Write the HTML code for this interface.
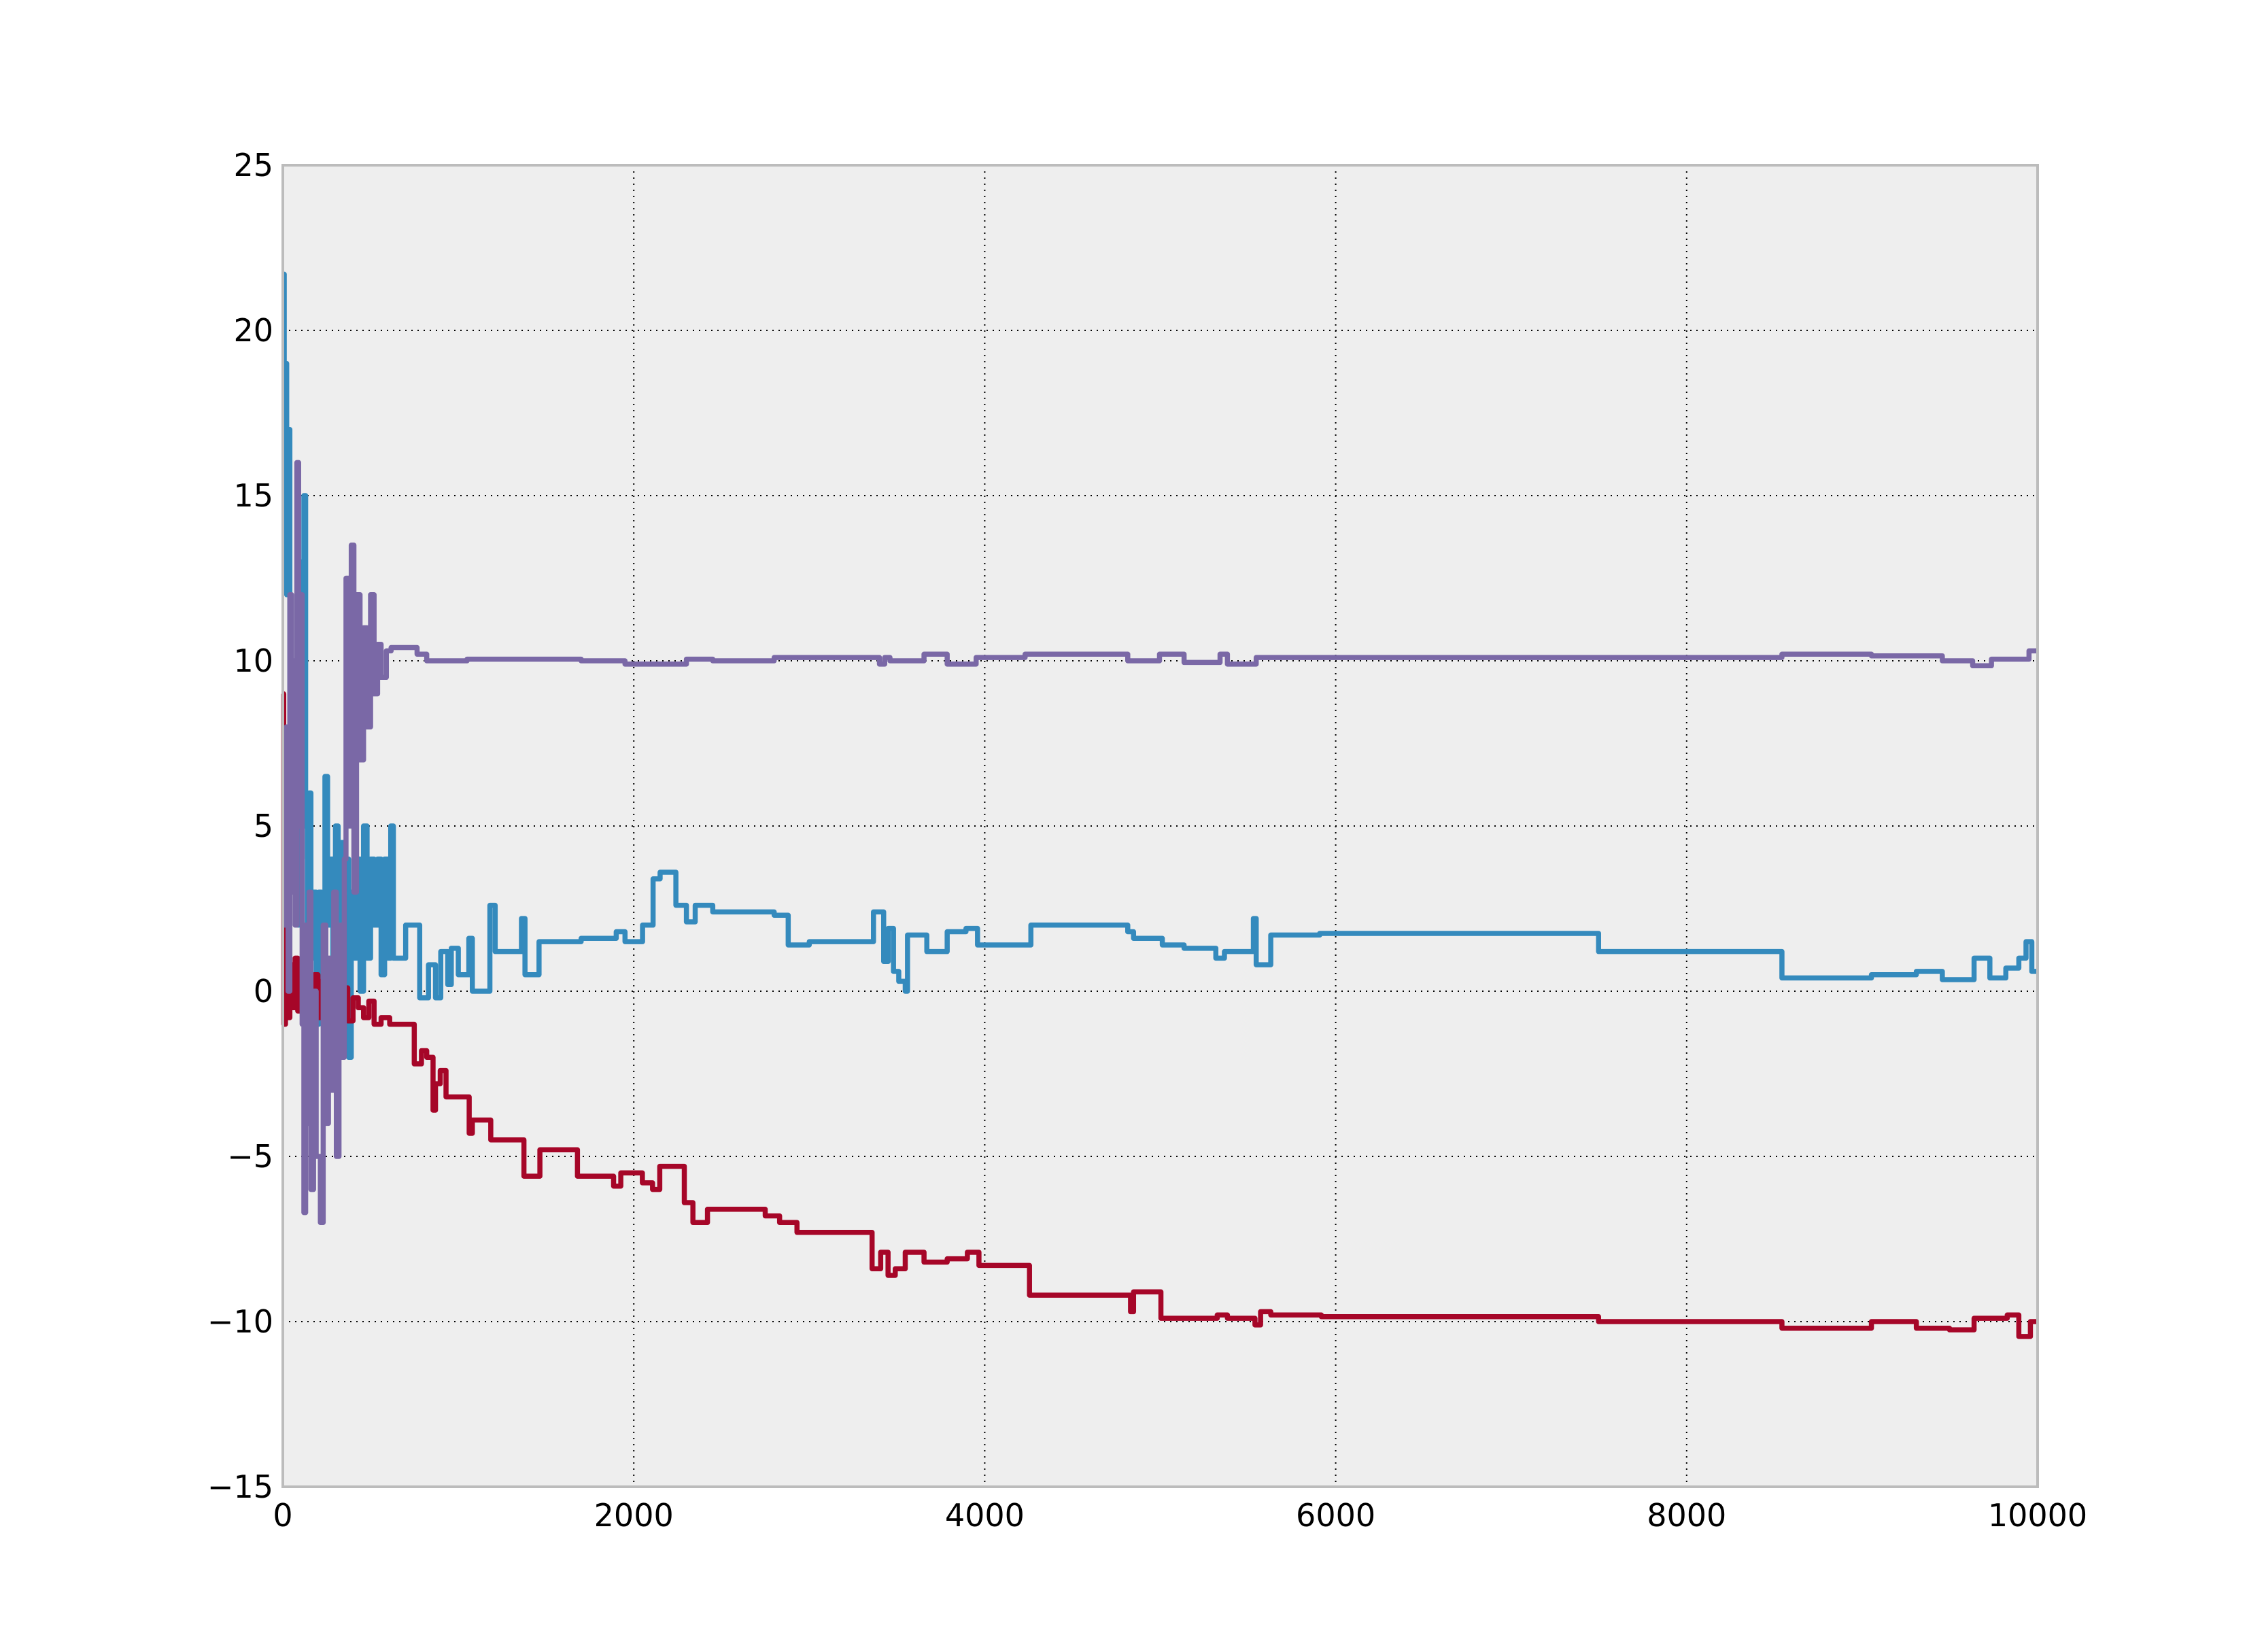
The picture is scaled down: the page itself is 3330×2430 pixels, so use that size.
<!DOCTYPE html>
<html><head><meta charset="utf-8"><style>
html,body{margin:0;padding:0;background:#fff}
svg{display:block;font-family:"DejaVu Sans","Liberation Sans",sans-serif}
</style></head><body>
<svg id="chart" width="3330" height="2430" viewBox="0 0 3330 2430" xmlns="http://www.w3.org/2000/svg">
<rect x="416" y="243" width="2581" height="1944" fill="#eeeeee"/>
<g id="grid"></g>
<g id="series"></g>
<rect x="416" y="243" width="2581" height="1944" fill="none" stroke="#bcbcbc" stroke-width="4"/>
<g id="ticks"></g>
</svg>
<script>
const xTicks=[0,2000,4000,6000,8000,10000];
const yTicks=[25,20,15,10,5,0,-5,-10,-15];
const blueX=[0,8,15,22,30,40,50,60,70,80,90,100,110,120,130,140,150,160,175,190,205,220,240,255,270,285,300,315,330,345,360,375,390,405,420,440,460,480,500,520,540,560,580,600,615,630,700,780,830,870,900,940,960,1000,1060,1080,1180,1210,1360,1380,1460,1700,1900,1950,2050,2110,2150,2240,2300,2350,2450,2800,2880,3000,3366,3424,3450,3480,3510,3547,3560,3670,3786,3893,3959,4263,4815,4848,5012,5136,5317,5366,5531,5547,5630,5909,7498,8543,9053,9309,9457,9638,9728,9819,9893,9934,9967,10000];
const blueY=[21.7,15,19,12,17,5,10,3,8,2,6,4,13,15,5,2,6,1,3,-1,3,0,6.5,2,4,-2,5,-1,4.5,0,4,-2,3,1,4,0,5,1,4,2,4,0.5,4,1,5,1,2.0,-0.2,0.8,-0.2,1.2,0.2,1.3,0.5,1.6,0,2.6,1.2,2.2,0.5,1.5,1.6,1.8,1.5,2.0,3.4,3.6,2.6,2.1,2.6,2.4,2.3,1.4,1.5,2.4,0.9,1.9,0.6,0.3,0,1.7,1.2,1.8,1.9,1.4,2.0,1.8,1.6,1.4,1.3,1.0,1.2,2.2,0.8,1.7,1.75,1.2,0.4,0.5,0.6,0.35,1.0,0.4,0.7,1.0,1.5,0.6,0.6];
const redX=[0,5,15,25,40,55,70,85,100,120,140,160,180,200,220,250,280,310,340,370,400,430,460,490,520,560,609,749,790,820,856,870,897,930,1062,1080,1185,1374,1465,1679,1885,1926,2049,2107,2148,2288,2337,2420,2749,2831,2930,3358,3407,3449,3490,3547,3654,3786,3901,3967,4255,4831,4848,5004,5325,5383,5540,5572,5630,5918,7498,8543,9053,9309,9498,9638,9827,9893,9959,10000];
const redY=[9,-1,1,-0.8,0.8,-0.5,1,-0.6,0.5,-0.5,0.3,-1,0.5,-0.8,0.3,-0.5,0.2,-0.6,0.1,-0.9,-0.2,-0.5,-0.8,-0.3,-1.0,-0.8,-1.0,-2.2,-1.8,-2.0,-3.6,-2.8,-2.4,-3.2,-4.3,-3.9,-4.5,-5.6,-4.8,-5.6,-5.9,-5.5,-5.8,-6.0,-5.3,-6.4,-7.0,-6.6,-6.8,-7.0,-7.3,-8.4,-7.9,-8.6,-8.4,-7.9,-8.2,-8.1,-7.9,-8.3,-9.2,-9.7,-9.1,-9.9,-9.8,-9.9,-10.1,-9.7,-9.8,-9.85,-10.0,-10.2,-10.0,-10.2,-10.25,-9.9,-9.8,-10.45,-10.0,-10.0];
const purpleX=[0,10,20,30,40,50,60,70,80,90,100,110,120,130,140,150,160,175,190,214,230,245,260,275,290,305,320,335,350,360,375,390,405,420,440,460,480,500,520,540,560,590,617,765,820,1050,1700,1950,2300,2450,2800,3400,3430,3460,3654,3786,3951,4230,4815,4996,5136,5341,5383,5547,5893,8543,9053,9457,9630,9737,9951,10000];
const purpleY=[5,2,8,0,12,3,10,2,16,5,12,-1,-6.7,2,-4,3,-6,0,-5,-7,2,-4,1,-3,3,-5,2,-2,4,12.5,5,13.5,3,12,7,11,8,12,9,10.5,9.5,10.3,10.4,10.2,10.0,10.05,10.0,9.9,10.05,10.0,10.1,9.9,10.1,10.0,10.2,9.9,10.1,10.2,10.0,10.2,9.95,10.2,9.9,10.1,10.1,10.2,10.15,10.0,9.85,10.05,10.3,10.3];
const NS="http://www.w3.org/2000/svg";
const L=416,R=2997,T=243,B=2187;
const sx=v=>L+(v-0)/(10000-0)*(R-L);
const sy=v=>B-(v+15)/(25+15)*(B-T);
const grid=document.getElementById('grid'),ticks=document.getElementById('ticks'),ser=document.getElementById('series');
xTicks.forEach(t=>{
  const l=document.createElementNS(NS,'line');
  
  
  l.setAttribute('x1',sx(t));l.setAttribute('x2',sx(t));l.setAttribute('y1',T);l.setAttribute('y2',B);
  l.setAttribute('stroke','#000');l.setAttribute('stroke-width','2');l.setAttribute('stroke-dasharray','2 7');
  grid.appendChild(l);
  const tx=document.createElementNS(NS,'text');
  
  
  tx.setAttribute('x',sx(t));tx.setAttribute('y',B+58);tx.setAttribute('text-anchor','middle');tx.setAttribute('font-size','46');
  tx.textContent=String(t);ticks.appendChild(tx);
});
yTicks.forEach(t=>{
  const l=document.createElementNS(NS,'line');
  
  
  l.setAttribute('x1',L);l.setAttribute('x2',R);l.setAttribute('y1',sy(t));l.setAttribute('y2',sy(t));
  l.setAttribute('stroke','#000');l.setAttribute('stroke-width','2');l.setAttribute('stroke-dasharray','2 7');
  grid.appendChild(l);
  const tx=document.createElementNS(NS,'text');
  
  
  tx.setAttribute('x',L-14);tx.setAttribute('y',sy(t)+16);tx.setAttribute('text-anchor','end');tx.setAttribute('font-size','46');
  tx.textContent=(t<0?'\u2212'+(-t):String(t));ticks.appendChild(tx);
});
function step(xs,ys,color,name){
  let d='M'+sx(xs[0])+' '+sy(ys[0]);
  for(let i=1;i<xs.length;i++){d+=' H'+sx(xs[i])+' V'+sy(ys[i]);}
  const p=document.createElementNS(NS,'path');
  
  
  p.setAttribute('d',d);p.setAttribute('fill','none');p.setAttribute('stroke',color);
  p.setAttribute('stroke-width','7.5');p.setAttribute('stroke-linejoin','round');
  ser.appendChild(p);
}
step(blueX,blueY,'#348ABD','series-blue');
step(redX,redY,'#A60628','series-red');
step(purpleX,purpleY,'#7A68A6','series-purple');
</script>
</body></html>
